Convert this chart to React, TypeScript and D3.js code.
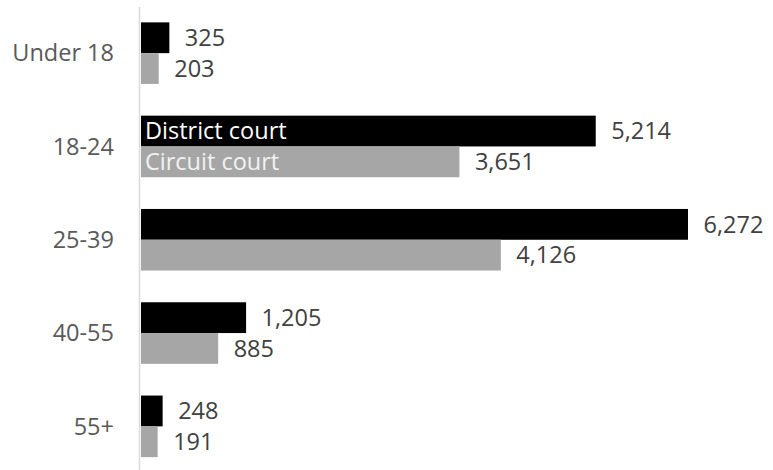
import React, { useRef, useEffect } from "react"
import * as d3 from "d3"

const categories = ["Under 18", "18-24", "25-39", "40-55", "55+"]
const district = [325, 5214, 6272, 1205, 248]
const circuit = [203, 3651, 4126, 885, 191]
const seriesNames = ["District court", "Circuit court"]
const seriesColors = ["#000000", "#a6a6a6"]
const labelColors = ["#ffffff", "#f2f2f2"]

const width = 773
const height = 470

const App = () => {
  const ref = useRef<SVGSVGElement>(null)

  useEffect(() => {
    if (!ref.current) return
    const svg = d3.select(ref.current)
    svg.selectAll("*").remove()

    const y = d3
      .scaleBand()
      .domain(categories)
      .range([6.5, 473])
      .paddingInner(0.34)
      .paddingOuter(0.17)

    const x = d3.scaleLinear().domain([0, 6272]).range([141, 688])

    const inner = d3
      .scaleBand()
      .domain(["0", "1"])
      .range([0, y.bandwidth()])

    const rows = categories.map((c, i) => ({ cat: c, vals: [district[i], circuit[i]] }))
    const font = "'Open Sans', sans-serif"
    const fs = 23.5

    // axis line
    svg
      .append("line")
      .attr("x1", 139.5)
      .attr("x2", 139.5)
      .attr("y1", 7)
      .attr("y2", height)
      .attr("stroke", "#d9d9d9")
      .attr("stroke-width", 1.5)

    // category labels
    svg
      .append("g")
      .selectAll("text")
      .data(categories)
      .join("text")
      .attr("x", 114)
      .attr("y", d => (y(d) as number) + y.bandwidth() / 2)
      .attr("dy", "0.35em")
      .attr("text-anchor", "end")
      .attr("font-family", font)
      .attr("font-size", fs)
      .attr("fill", "#595959")
      .text(d => d)

    const groups = svg
      .append("g")
      .selectAll("g")
      .data(rows)
      .join("g")
      .attr("transform", d => `translate(0,${y(d.cat)})`)

    groups
      .selectAll("rect")
      .data(d => d.vals)
      .join("rect")
      .attr("x", x(0))
      .attr("y", (_, j) => inner(String(j)) as number)
      .attr("width", v => x(v) - x(0))
      .attr("height", inner.bandwidth())
      .attr("fill", (_, j) => seriesColors[j])

    groups
      .selectAll("text.val")
      .data(d => d.vals)
      .join("text")
      .attr("class", "val")
      .attr("x", v => x(v) + 15.5)
      .attr("y", (_, j) => (inner(String(j)) as number) + inner.bandwidth() / 2)
      .attr("dy", "0.35em")
      .attr("font-family", font)
      .attr("font-size", fs)
      .attr("fill", "#404040")
      .text(v => d3.format(",")(v))

    // legend names written inside the 18-24 bars
    const legendRow = y("18-24") as number
    svg
      .append("g")
      .selectAll("text")
      .data(seriesNames)
      .join("text")
      .attr("x", 145)
      .attr("y", (_, j) => legendRow + (inner(String(j)) as number) + inner.bandwidth() / 2)
      .attr("dy", "0.35em")
      .attr("font-family", font)
      .attr("font-size", fs)
      .attr("fill", (_, j) => labelColors[j])
      .text(d => d)
  }, [])

  return (
    <svg
      ref={ref}
      width={width}
      height={height}
      style={{ position: "absolute", left: 0, top: 0, background: "#fff" }}
    />
  )
}

export default App
